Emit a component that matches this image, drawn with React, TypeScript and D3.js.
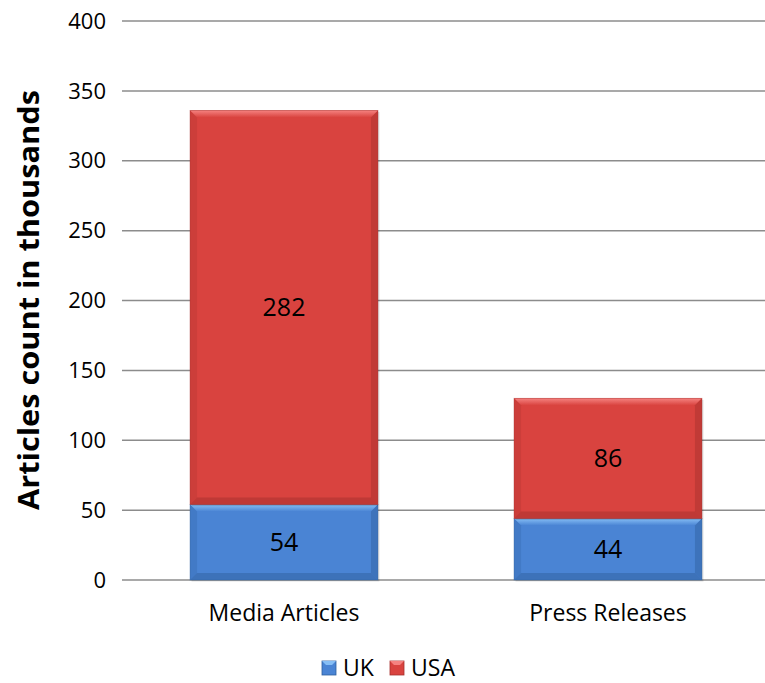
import React from "react";
import * as d3 from "d3";

const categories = ["Media Articles", "Press Releases"];
const ukValues = [54, 44];
const usaValues = [282, 86];
const seriesNames = ["UK", "USA"];
const yTicks = [0, 50, 100, 150, 200, 250, 300, 350, 400];

const W = 765;
const H = 683;
const FONT = "'Open Sans', 'Noto Sans', sans-serif";

const palette = {
  UK: { top: "#86BEF5", mid: "#4A84D4", dark: "#2F5F9E", edge: "#3A6FB8" },
  USA: { top: "#F58280", mid: "#D9433F", dark: "#A5302D", edge: "#BF3935" },
};

function BevelBar({ x, y, w, h, c, id }: any) {
  const b = Math.min(7, h / 3);
  return (
    <g>
      <rect x={x + 1.5} y={y + 1.5} width={w} height={h} fill="#000" opacity={0.12} />
      <rect x={x} y={y} width={w} height={h} fill={c.mid} />
      <polygon points={`${x},${y} ${x + w},${y} ${x + w - b},${y + b} ${x + b},${y + b}`} fill={`url(#${id}-top)`} />
      <polygon points={`${x},${y} ${x + b},${y + b} ${x + b},${y + h - b} ${x},${y + h}`} fill={c.edge} opacity={0.5} />
      <polygon points={`${x + w},${y} ${x + w - b},${y + b} ${x + w - b},${y + h - b} ${x + w},${y + h}`} fill={c.dark} opacity={0.45} />
      <polygon points={`${x},${y + h} ${x + b},${y + h - b} ${x + w - b},${y + h - b} ${x + w},${y + h}`} fill={c.dark} opacity={0.5} />
      <rect x={x} y={y} width={w} height={h} fill="none" stroke={c.dark} strokeOpacity={0.5} strokeWidth={0.8} />
    </g>
  );
}

export default function App() {
  const left = 122;
  const top = 21;
  const bottom = 580;
  const y = d3.scaleLinear().domain([0, 400]).range([bottom, top]);
  const x = d3.scaleBand().domain(categories).range([122, 770]).paddingInner(0.42).paddingOuter(0.21);

  const stacked = categories.map((cat, i) => ({
    cat,
    segs: [
      { name: "UK", v0: 0, v1: ukValues[i], val: ukValues[i] },
      { name: "USA", v0: ukValues[i], v1: ukValues[i] + usaValues[i], val: usaValues[i] },
    ],
  }));

  return (
    <div style={{ position: "absolute", left: 0, top: 0 }}>
      <svg width={W} height={H} style={{ display: "block", background: "#fff" }}>
        <defs>
          {(["UK", "USA"] as const).map((k) => (
            <linearGradient key={k} id={`${k}-top`} x1="0" y1="0" x2="0" y2="1">
              <stop offset="0" stopColor={palette[k].top} />
              <stop offset="1" stopColor={palette[k].mid} />
            </linearGradient>
          ))}
        </defs>

        {yTicks.map((t) => (
          <g key={t}>
            <line x1={left} x2={W} y1={y(t)} y2={y(t)} stroke="#8c8c8c" strokeWidth={1.5} />
            <text x={106} y={y(t)} dy="0.35em" textAnchor="end" fontFamily={FONT} fontSize={22} fill="#000">
              {t}
            </text>
          </g>
        ))}

        {stacked.map((d) =>
          d.segs.map((s) => {
            const bx = x(d.cat)!;
            const bw = x.bandwidth();
            const y0 = y(s.v1);
            const h = y(s.v0) - y(s.v1);
            const c = palette[s.name as "UK" | "USA"];
            return (
              <g key={d.cat + s.name}>
                <BevelBar x={bx} y={y0} w={bw} h={h} c={c} id={s.name} />
                <text x={bx + bw / 2} y={y0 + h / 2} dy="0.35em" textAnchor="middle" fontFamily={FONT} fontSize={25} fill="#000">
                  {s.val}
                </text>
              </g>
            );
          })
        )}

        {categories.map((c) => (
          <text key={c} x={x(c)! + x.bandwidth() / 2} y={613} dy="0.35em" textAnchor="middle" fontFamily={FONT} fontSize={23} fill="#000">
            {c}
          </text>
        ))}

        <text
          transform="translate(29,300) rotate(-90)"
          dy="0.35em"
          textAnchor="middle"
          fontFamily={FONT}
          fontWeight="bold"
          fontSize={28}
          textLength={420}
          lengthAdjust="spacingAndGlyphs"
          fill="#000"
        >
          Articles count in thousands
        </text>

        {seriesNames.map((n, i) => {
          const lx = [322, 390][i];
          const c = palette[n as "UK" | "USA"];
          return (
            <g key={n}>
              <rect x={lx} y={661} width={14} height={14} fill={c.mid} stroke={c.dark} strokeWidth={0.8} />
              <polygon points={`${lx},661 ${lx + 14},661 ${lx + 10},665 ${lx + 4},665`} fill={c.top} />
              <text x={lx + 21} y={668} dy="0.35em" fontFamily={FONT} fontSize={23} fill="#000">
                {n}
              </text>
            </g>
          );
        })}
      </svg>
    </div>
  );
}
